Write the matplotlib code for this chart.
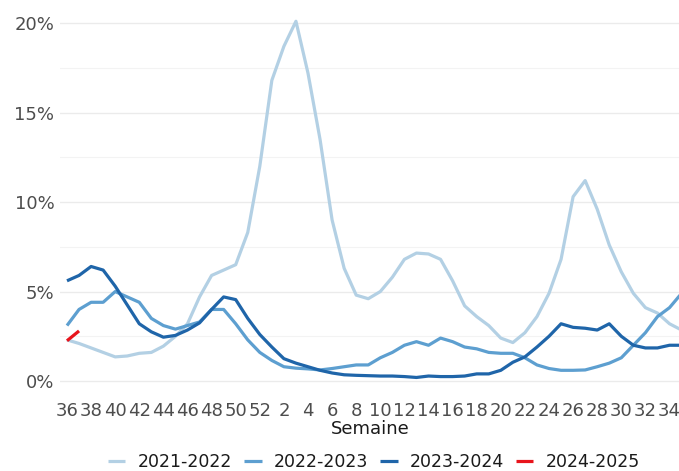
import numpy as np
import matplotlib
matplotlib.use("Agg")
import matplotlib.pyplot as plt
from matplotlib.ticker import FixedLocator, FuncFormatter

weeks = [36, 37, 38, 39, 40, 41, 42, 43, 44, 45, 46, 47, 48, 49, 50, 51, 52,
         1, 2, 3, 4, 5, 6, 7, 8, 9, 10, 11, 12, 13, 14, 15, 16, 17, 18, 19, 20,
         21, 22, 23, 24, 25, 26, 27, 28, 29, 30, 31, 32, 33, 34, 35]

s2021_2022 = [2.3, 2.1, 1.85, 1.6, 1.35, 1.4, 1.55, 1.6, 1.95, 2.5, 3.2, 4.7,
              5.9, 6.2, 6.5, 8.3, 12.0, 16.8, 18.7, 20.1, 17.2, 13.5, 9.0, 6.3,
              4.8, 4.6, 5.0, 5.8, 6.8, 7.15, 7.1, 6.8, 5.6, 4.2, 3.6, 3.1, 2.4,
              2.15, 2.7, 3.6, 4.9, 6.8, 10.3, 11.2, 9.6, 7.6, 6.1, 4.9, 4.1,
              3.8, 3.2, 2.85]
s2022_2023 = [3.1, 4.0, 4.4, 4.4, 5.0, 4.7, 4.4, 3.5, 3.1, 2.9, 3.1, 3.3,
              4.0, 4.0, 3.2, 2.3, 1.6, 1.15, 0.8, 0.72, 0.68, 0.62, 0.7, 0.8,
              0.9, 0.9, 1.3, 1.6, 2.0, 2.2, 2.0, 2.4, 2.2, 1.9, 1.8, 1.6, 1.55,
              1.55, 1.3, 0.9, 0.7, 0.6, 0.6, 0.62, 0.8, 1.0, 1.3, 2.0, 2.7,
              3.6, 4.1, 4.9]
s2023_2024 = [5.6, 5.9, 6.4, 6.2, 5.3, 4.25, 3.2, 2.75, 2.45, 2.55, 2.85, 3.25,
              4.0, 4.7, 4.55, 3.5, 2.6, 1.9, 1.25, 1.0, 0.8, 0.6, 0.45, 0.35,
              0.32, 0.3, 0.28, 0.28, 0.25, 0.2, 0.28, 0.25, 0.25, 0.28, 0.4,
              0.4, 0.6, 1.05, 1.35, 1.9, 2.5, 3.2, 3.0, 2.95, 2.85, 3.2, 2.5,
              2.0, 1.85, 1.85, 2.0, 2.0]
s2024_2025 = [2.25, 2.8]

seasons = ["2021-2022", "2022-2023", "2023-2024", "2024-2025"]
values = [s2021_2022, s2022_2023, s2023_2024, s2024_2025]
colors = ["#b3d0e4", "#5d9fd0", "#1f65a9", "#e8141c"]

fig = plt.figure(figsize=(6.79, 4.71), dpi=100)
ax = fig.add_axes([60 / 679, 1 - 390 / 471, 620 / 679, 375 / 471])

for name, vals, col in zip(seasons, values, colors):
    ax.plot(np.arange(len(vals)), vals, color=col, lw=2.3, label=name,
            solid_capstyle="butt", solid_joinstyle="round")

ax.set_xlim(-0.58, 50.87)
ax.set_ylim(-0.5, 20.45)

ax.set_yticks([0, 5, 10, 15, 20])
ax.yaxis.set_minor_locator(FixedLocator([2.5, 7.5, 12.5, 17.5]))
ax.yaxis.set_major_formatter(FuncFormatter(lambda v, p: f"{v:.0f}%"))
ax.grid(axis="y", which="major", color="#ebebeb", lw=1.0)
ax.grid(axis="y", which="minor", color="#f3f3f3", lw=0.8)
ax.grid(axis="x", visible=False)

xt = list(range(0, len(weeks), 2))
ax.set_xticks(xt)
ax.set_xticklabels([str(weeks[i]) for i in xt])

ax.tick_params(axis="both", which="both", length=0, labelsize=13,
               labelcolor="#4d4d4d")
ax.tick_params(axis="x", pad=9)
ax.tick_params(axis="y", pad=4)
for s in ax.spines.values():
    s.set_visible(False)
ax.set_axisbelow(True)

ax.set_xlabel("Semaine", fontsize=13, color="#1a1a1a", labelpad=0)

ax.legend(loc="center", bbox_to_anchor=(374 / 679, 1 - 462 / 471),
          bbox_transform=fig.transFigure, ncol=4, frameon=False,
          fontsize=12.5, handlelength=1.0, handletextpad=0.7,
          columnspacing=0.7, labelcolor="#1a1a1a")

fig.savefig("out.png", dpi=100)
